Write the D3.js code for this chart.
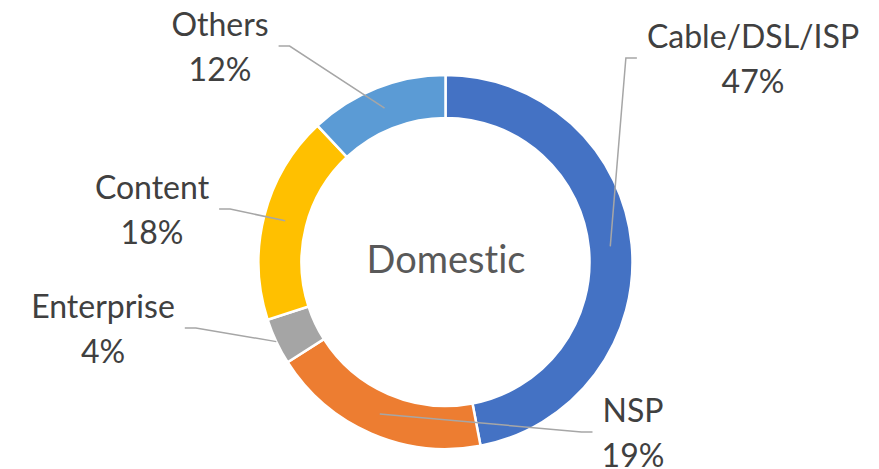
<!DOCTYPE html>
<html>
<head>
<meta charset="utf-8">
<script src="https://cdn.jsdelivr.net/npm/d3@7"></script>
<style>
	html, body { margin: 0; padding: 0; background: #fff; }
	svg { display: block; font-family: Lato, 'Open Sans', sans-serif; font-variant-ligatures: none; }
</style>
</head>
<body>
<svg id="chart" width="879" height="469"></svg>
<script>
const categories = ['Cable/DSL/ISP', 'NSP', 'Enterprise', 'Content', 'Others'];
const shares = [47, 19, 4, 18, 12];
const centerTitle = 'Domestic';

const colors = ['#4472C4', '#ED7D31', '#A5A5A5', '#FFC000', '#5B9BD5'];
// label placement (text centre x, first baseline y), leader side, leader end radius
const labelLayout = [
	{ x: 753, y: 48, side: 'right', end: 'mid' },
	{ x: 633, y: 422, side: 'right', end: 'mid' },
	{ x: 103, y: 318, side: 'left', end: 'outer' },
	{ x: 152, y: 199, side: 'left', end: 'mid' },
	{ x: 220, y: 36, side: 'left', end: 'mid' },
];

const cx = 445.5, cy = 262;
const outerR = 187, innerR = 144;
const fontSize = 32;
const lineGap = 44.5;

const data = categories.map((name, i) => ({ name, value: shares[i], i }));

const svg = d3.select('#chart');
const g = svg.append('g').attr('transform', `translate(${ cx }, ${ cy })`);

const pie = d3.pie()
	.value((d) => d.value)
	.sort(null);

const arc = d3.arc()
	.innerRadius(innerR)
	.outerRadius(outerR);

const arcs = pie(data);

// slices
g.selectAll('path.slice')
	.data(arcs)
	.join('path')
		.attr('class', 'slice')
		.attr('d', arc)
		.attr('fill', (d) => colors[d.data.i])
		.attr('stroke', '#fff')
		.attr('stroke-width', 2.5);

// centre title
svg.append('text')
	.attr('x', cx + 0.5)
	.attr('y', 273)
	.attr('text-anchor', 'middle')
	.attr('font-size', 38)
	.attr('fill', '#595959')
	.text(centerTitle);

// labels
const labels = svg.append('g');
arcs.forEach((a) => {
	const lay = labelLayout[a.data.i];
	const t = labels.append('text')
		.attr('text-anchor', 'middle')
		.attr('font-size', fontSize)
		.attr('fill', '#404040');
	t.append('tspan').attr('x', lay.x).attr('y', lay.y).text(a.data.name);
	t.append('tspan').attr('x', lay.x).attr('y', lay.y + lineGap).text(`${ a.data.value }%`);

	const w = t.node().firstChild.getComputedTextLength();
	const r = lay.end === 'outer' ? outerR : (innerR + outerR) / 2;
	const mid = (a.startAngle + a.endAngle) / 2;
	const ex = cx + r * Math.sin(mid);
	const ey = cy - r * Math.cos(mid);
	const sy = lay.y + 10;
	let pts;
	if (lay.side === 'right') {
		const sx = lay.x - w / 2 - 10;
		pts = [[sx, sy], [sx - 11, sy], [ex, ey]];
	} else {
		const sx = lay.x + w / 2 + 10;
		pts = [[sx, sy], [sx + 11, sy], [ex, ey]];
	}
	labels.append('path')
		.attr('d', d3.line()(pts))
		.attr('fill', 'none')
		.attr('stroke', '#A6A6A6')
		.attr('stroke-width', 1.5);
});
</script>
</body>
</html>
